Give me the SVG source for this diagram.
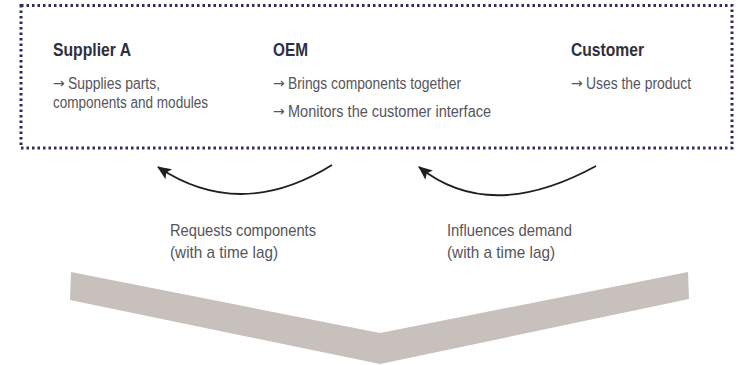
<svg xmlns="http://www.w3.org/2000/svg" width="740" height="365" viewBox="0 0 740 365">
  <style>
    .title { font-family: "Liberation Sans", Arial, sans-serif; font-weight: bold; font-size: 19px; fill: #2f2f3d; }
    .body { font-family: "Liberation Sans", Arial, sans-serif; font-size: 16px; fill: #55555c; }
    .label { font-family: "Liberation Sans", Arial, sans-serif; font-size: 17px; fill: #55555c; }
    .ar { font-family: "DejaVu Sans", sans-serif; font-size: 14px; fill: #55555c; }
    .conn { fill: none; stroke: #1f1f24; stroke-width: 1.8; }
  </style>
  <defs>
    <marker id="arrow" markerUnits="userSpaceOnUse" markerWidth="16" markerHeight="14" refX="13" refY="6" orient="auto">
      <path d="M0,0 L14,6 L0,12 L3,6 Z" fill="#1f1f24"/>
    </marker>
  </defs>
  <rect width="740" height="365" fill="#ffffff"/>

  <g id="frame">
    <rect x="21" y="5.5" width="711" height="142.5" fill="none" stroke="#2b2d5e" stroke-width="3" stroke-dasharray="2.5 3"/>
  </g>

  <g id="supplier">
    <text class="title" x="53" y="56" textLength="78" lengthAdjust="spacingAndGlyphs">Supplier A</text>
    <text class="ar" x="53" y="88">→</text>
    <text class="body" x="68" y="89" textLength="92" lengthAdjust="spacingAndGlyphs">Supplies parts,</text>
    <text class="body" x="53" y="108" textLength="155" lengthAdjust="spacingAndGlyphs">components and modules</text>
  </g>

  <g id="oem">
    <text class="title" x="273" y="56" textLength="35" lengthAdjust="spacingAndGlyphs">OEM</text>
    <text class="ar" x="273" y="88">→</text>
    <text class="body" x="288" y="89" textLength="173" lengthAdjust="spacingAndGlyphs">Brings components together</text>
    <text class="ar" x="273" y="116">→</text>
    <text class="body" x="288" y="117" textLength="203" lengthAdjust="spacingAndGlyphs">Monitors the customer interface</text>
  </g>

  <g id="customer">
    <text class="title" x="571" y="56" textLength="73" lengthAdjust="spacingAndGlyphs">Customer</text>
    <text class="ar" x="571" y="88">→</text>
    <text class="body" x="586" y="89" textLength="105" lengthAdjust="spacingAndGlyphs">Uses the product</text>
  </g>

  <g id="connectors">
    <path class="conn" d="M332,165 Q240,222 158,167" marker-end="url(#arrow)"/>
    <path class="conn" d="M596,166 Q490,224 419,167" marker-end="url(#arrow)"/>
  </g>

  <g id="label-requests">
    <text class="label" x="170" y="236" textLength="146" lengthAdjust="spacingAndGlyphs">Requests components</text>
    <text class="label" x="170" y="258" textLength="108" lengthAdjust="spacingAndGlyphs">(with a time lag)</text>
  </g>

  <g id="label-influences">
    <text class="label" x="447" y="236" textLength="125" lengthAdjust="spacingAndGlyphs">Influences demand</text>
    <text class="label" x="447" y="258" textLength="108" lengthAdjust="spacingAndGlyphs">(with a time lag)</text>
  </g>

  <g id="chevron">
    <polygon points="71,272 380,333 688,272 689,299 380,364 70,300" fill="#c8c0bc"/>
  </g>
</svg>
